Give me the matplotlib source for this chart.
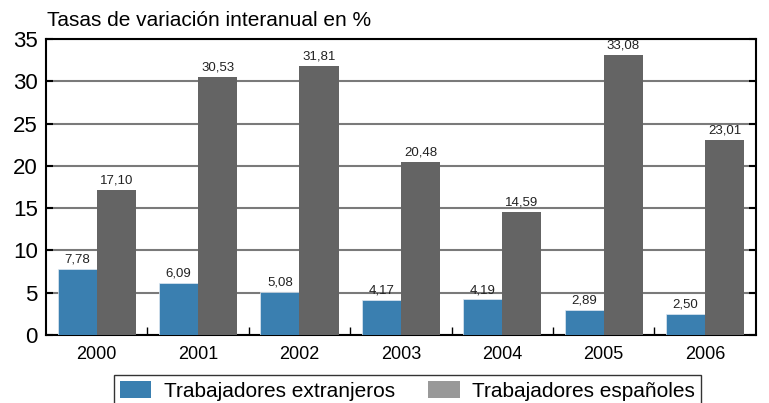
import matplotlib
matplotlib.use("Agg")
import matplotlib.pyplot as plt
import numpy as np
from matplotlib.ticker import FixedLocator
from matplotlib.patches import Patch

plt.rcParams['font.family'] = ['Liberation Sans', 'DejaVu Sans']

years = ["2000", "2001", "2002", "2003", "2004", "2005", "2006"]
extranjeros = [7.78, 6.09, 5.08, 4.17, 4.19, 2.89, 2.50]
espanoles = [17.10, 30.53, 31.81, 20.48, 14.59, 33.08, 23.01]
labels_ext = ["7,78", "6,09", "5,08", "4,17", "4,19", "2,89", "2,50"]
labels_esp = ["17,10", "30,53", "31,81", "20,48", "14,59", "33,08", "23,01"]
series_names = ["Trabajadores extranjeros", "Trabajadores españoles"]

blue = "#3a7fb0"
gray = "#646464"

fig = plt.figure(figsize=(7.69, 4.03), dpi=100)
ax = fig.add_axes([0.0598, 0.169, 0.923, 0.734])

x = np.arange(len(years))
w = 0.385
b1 = ax.bar(x - w/2, extranjeros, w, color=blue, zorder=3, edgecolor="#dfe9f2", linewidth=0.5)
b2 = ax.bar(x + w/2, espanoles, w, color=gray, zorder=3)

for rect, lab in zip(b1, labels_ext):
    ax.annotate(lab, (rect.get_x() + rect.get_width()/2, rect.get_height()),
                xytext=(0, 2.5), textcoords="offset points", ha="center", va="bottom",
                fontsize=9.5, color="#222222", zorder=5)
for rect, lab in zip(b2, labels_esp):
    ax.annotate(lab, (rect.get_x() + rect.get_width()/2, rect.get_height()),
                xytext=(0, 2.5), textcoords="offset points", ha="center", va="bottom",
                fontsize=9.5, color="#222222", zorder=5)

ax.set_xlim(-0.5, len(years) - 0.5)
ax.set_ylim(0, 35)
ax.set_yticks(np.arange(0, 36, 5))
ax.set_xticks(x)
ax.set_xticklabels(years, fontsize=13)
ax.xaxis.set_minor_locator(FixedLocator(np.arange(0.5, len(years) - 1, 1)))
ax.tick_params(axis='x', which='major', length=0, pad=8)
ax.tick_params(axis='x', which='minor', direction='in', length=6, width=1, color='black')
ax.tick_params(axis='y', direction='in', length=5, width=1.5, labelsize=16, right=True, pad=6)
ax.grid(axis='y', color='#7a7a7a', linewidth=1.5, zorder=0)
ax.set_axisbelow(True)
for s in ax.spines.values():
    s.set_linewidth(1.5)
    s.set_color('black')

fig.text(0.061, 0.95, "Tasas de variación interanual en %", fontsize=15, ha='left', va='center')

handles = [Patch(facecolor=blue), Patch(facecolor="#999999")]
leg = fig.legend(handles, series_names, loc='upper center', bbox_to_anchor=(0.53, 0.07),
                 ncol=2, fontsize=15, frameon=True, fancybox=False, edgecolor='black',
                 handlelength=1.5, handleheight=0.9, handletextpad=0.6, columnspacing=1.6,
                 borderpad=0.3, borderaxespad=0)
leg.get_frame().set_linewidth(1.0)

fig.savefig("out.png", dpi=100)
